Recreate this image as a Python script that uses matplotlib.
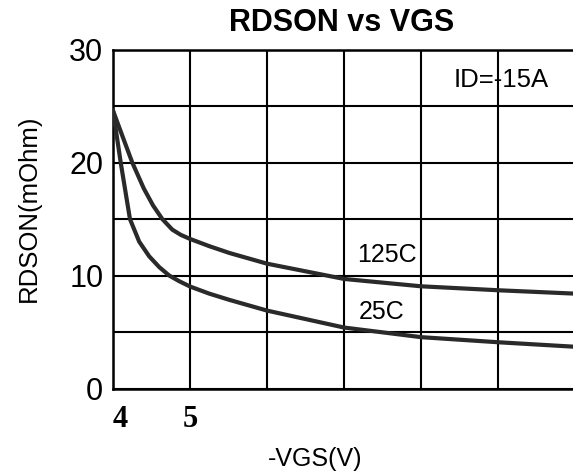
import matplotlib
matplotlib.use("Agg")
import matplotlib.pyplot as plt

# Data
vgs_125 = [4.0, 4.13, 4.25, 4.4, 4.52, 4.64, 4.77, 4.88, 5.0, 5.25, 5.51, 6.0, 7.0, 8.0, 9.0, 10.0]
rds_125 = [24.6, 22.2, 20.0, 17.7, 16.2, 15.0, 14.06, 13.6, 13.24, 12.6, 12.0, 11.05, 9.7, 9.05, 8.7, 8.4]
vgs_25 = [4.0, 4.1, 4.22, 4.34, 4.47, 4.6, 4.73, 4.86, 5.0, 5.25, 5.51, 6.0, 7.0, 8.0, 9.0, 10.0]
rds_25 = [24.6, 20.0, 15.0, 13.0, 11.7, 10.75, 10.0, 9.5, 9.03, 8.4, 7.85, 6.9, 5.4, 4.55, 4.1, 3.7]
x_ticks = [4, 5, 6, 7, 8, 9]
x_tick_labels = ["4", "5", "", "", "", ""]
y_ticks = [0, 10, 20, 30]
y_minor = [5, 15, 25]

plt.rcParams['font.family'] = ['Liberation Sans', 'DejaVu Sans']

fig = plt.figure(figsize=(5.73, 4.76), dpi=100)
ax = fig.add_axes([113/573, 1-388.6/476, 460/573, (388.6-49.5)/476])

curve_color = "#2a2a2a"
ax.plot(vgs_125, rds_125, color=curve_color, lw=3, solid_joinstyle='round', solid_capstyle='round', zorder=3)
ax.plot(vgs_25, rds_25, color=curve_color, lw=3, solid_joinstyle='round', solid_capstyle='round', zorder=3)

ax.set_xlim(4, 9.97)
ax.set_ylim(0, 30)
ax.set_xticks(x_ticks)
ax.set_xticklabels(x_tick_labels, fontfamily='Liberation Serif', fontweight='bold', fontsize=22)
ax.get_xticklabels()[0].set_ha('left')
ax.set_yticks(y_ticks)
ax.set_yticks(y_minor, minor=True)
ax.tick_params(axis='y', which='both', length=0, labelsize=22, pad=7)
ax.tick_params(axis='x', which='both', length=0, pad=12)
ax.grid(True, which='both', color='black', lw=1.5, zorder=1)
ax.set_axisbelow(True)

for s in ['left', 'bottom', 'top']:
    ax.spines[s].set_color('black')
    ax.spines[s].set_linewidth(1.8)
ax.spines['right'].set_visible(False)

ax.text(9.04, 27.3, "ID=-15A", fontsize=18.5, ha='center', va='center', zorder=4)
ax.text(7.55, 11.84, "125C", fontsize=18, ha='center', va='center', zorder=4)
ax.text(7.49, 6.8, "25C", fontsize=18, ha='center', va='center', zorder=4)

fig.text(342/573, 1-23/476, "RDSON vs VGS", fontsize=22, fontweight='bold', ha='center', va='center')
fig.text(315/573, 1-459/476, "-VGS(V)", fontsize=18, ha='center', va='center')
fig.text(29/573, 1-208/476, "RDSON(mOhm)", fontsize=18.5, rotation=90, ha='center', va='center')

fig.savefig("out.png", dpi=100)
